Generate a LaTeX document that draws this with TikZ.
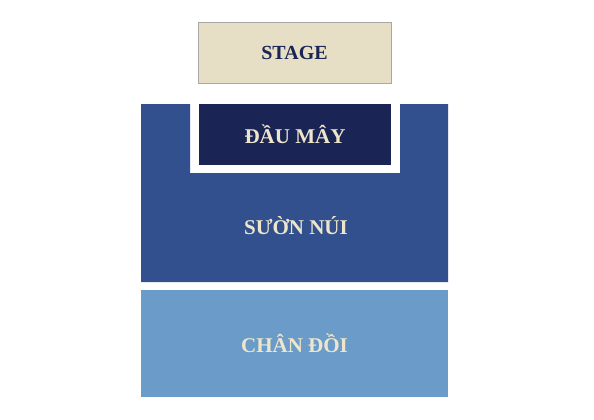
\documentclass[tikz,border=0pt]{standalone}
\usepackage{fontspec}
\setmainfont{Liberation Serif}
\definecolor{stagefill}{HTML}{E6DFC6}
\definecolor{stageline}{HTML}{A8A8A8}
\definecolor{navy}{HTML}{1B2555}
\definecolor{midblue}{HTML}{324F8E}
\definecolor{lightblue}{HTML}{6B9BC8}
\definecolor{cream}{HTML}{EDE6CC}
\begin{document}
\begin{tikzpicture}[x=1pt,y=-1pt,
  lbl/.style={font=\fontsize{21}{24}\selectfont\bfseries, text=cream}]
\useasboundingbox[fill=white] (0,0) rectangle (594,420);
% Stage
\node[draw=stageline, line width=0.8pt, fill=stagefill, minimum width=193pt, minimum height=61pt, inner sep=0pt, font=\fontsize{20}{23}\selectfont\bfseries, text=navy] (stage) at (294.5,52.5) {STAGE};
% Suon nui (U-shaped)
\fill[midblue] (141,104) -- (190,104) -- (190,173) -- (400,173) -- (400,104) -- (448,104) -- (448,282) -- (141,282) -- cycle;
\node[lbl] (suon) at (296,226) {SƯỜN NÚI};
% Dau may
\node[fill=navy, minimum width=192pt, minimum height=61pt, inner sep=0pt, lbl] (dau) at (295,134.5) {ĐẦU MÂY};
% Chan doi
\node[fill=lightblue, minimum width=307pt, minimum height=107pt, inner sep=0pt, lbl] (chan) at (294.5,343.5) {CHÂN ĐỒI};
\end{tikzpicture}
\end{document}
